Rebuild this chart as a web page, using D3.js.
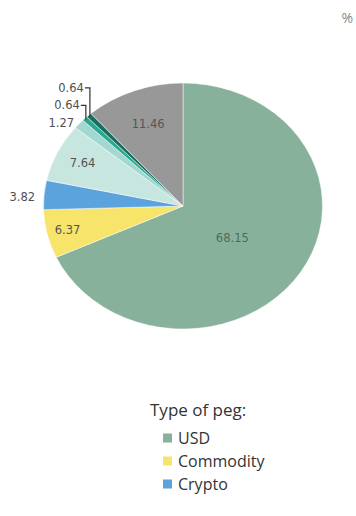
<!DOCTYPE html>
<html>
<head>
<meta charset="utf-8">
<script src="https://cdn.jsdelivr.net/npm/d3@7"></script>
<style>
  html, body { margin: 0; padding: 0; background: #fff; }
  svg { display: block; font-family: "Open Sans", "DejaVu Sans", sans-serif; }
</style>
</head>
<body>
<svg id="chart" width="356" height="516"></svg>
<script>
// Share of stablecoins by type of peg, in percent (clockwise from 12 o'clock)
const pegTypes  = ["USD", "Commodity", "Crypto", "Other A", "Other B", "Other C", "Other D", "Other E"];
const pegShares = [68.15, 6.37, 3.82, 7.64, 1.27, 0.64, 0.64, 11.46];
const pegLabels = ["68.15", "6.37", "3.82", "7.64", "1.27", "0.64", "0.64", "11.46"];
const legendTypes = ["USD", "Commodity", "Crypto"];
const unitLabel = "%";
const legendTitle = "Type of peg:";

const colors = d3.scaleOrdinal()
  .domain(pegTypes)
  .range(["#88b19b", "#f6e46b", "#5aa3dd", "#c8e6e0", "#a3d7d1", "#2aa892", "#176f5e", "#989898"]);

const svg = d3.select("#chart");
const W = 356;

// Pie is drawn slightly wider than tall
const cx = 183, cy = 206, rx = 139.5, ry = 123;

const pie = d3.pie().sort(null).value(d => d.value);
const data = pegTypes.map((t, i) => ({ type: t, value: pegShares[i], label: pegLabels[i] }));
const arcs = pie(data);

const arc = d3.arc().innerRadius(0).outerRadius(ry);

const pieG = svg.append("g")
  .attr("transform", `translate(${cx},${cy}) scale(${rx / ry},1)`);

pieG.selectAll("path")
  .data(arcs)
  .join("path")
  .attr("d", arc)
  .attr("fill", d => colors(d.data.type))
  .attr("stroke", "#ffffff")
  .attr("stroke-width", 0.6)
  .attr("stroke-opacity", 0.8)
  .attr("vector-effect", "non-scaling-stroke");

// point on the (elliptical) pie at angle a and relative radius k
function at(a, k) {
  return [cx + Math.sin(a) * rx * k, cy - Math.cos(a) * ry * k];
}
const mid = d => (d.startAngle + d.endAngle) / 2;

const labelG = svg.append("g")
  .attr("font-family", "'DejaVu Sans', sans-serif")
  .attr("font-size", 11.5)
  .attr("fill", "#505050");

// labels inside the larger slices
const insideK = { "68.15": 0.42, "6.37": 0.85, "7.64": 0.8, "11.46": 0.71 };
arcs.filter(d => d.data.value >= 5).forEach(d => {
  const k = insideK[d.data.label] || 0.6;
  const [x, y] = at(mid(d), k);
  labelG.append("text")
    .attr("x", x).attr("y", y + (d.data.value > 50 ? 4 : 0))
    .attr("text-anchor", "middle")
    .attr("dominant-baseline", "central")
    .attr("fill", d.data.value > 50 ? "#4f6b5c" : "#555")
    .text(d.data.label);
});

// medium slices: label just outside the rim
arcs.filter(d => d.data.value >= 2 && d.data.value < 5).forEach(d => {
  const [x, y] = at(mid(d), 1);
  labelG.append("text")
    .attr("x", x - 9).attr("y", y + 2)
    .attr("text-anchor", "end")
    .attr("dominant-baseline", "central")
    .text(d.data.label);
});

// thin slices: labels stacked upward, later ones joined by leader lines
const small = arcs.filter(d => d.data.value < 2);
const firstEdge = small.length ? at(mid(small[0]), 1) : [0, 0];
small.forEach((d, i) => {
  const [ex, ey] = at(mid(d), 1);
  const ly = firstEdge[1] - 1 - i * 17.5;
  labelG.append("text")
    .attr("x", ex - 5).attr("y", ly)
    .attr("text-anchor", "end")
    .attr("dominant-baseline", "central")
    .text(d.data.label);
  if (i > 0) {
    svg.append("path")
      .attr("d", `M${ex - 4},${ly}H${ex + 1}V${ey + 1}`)
      .attr("fill", "none")
      .attr("stroke", "#333")
      .attr("stroke-width", 1.2);
  }
});

// unit marker
svg.append("text")
  .attr("x", W - 3).attr("y", 17)
  .attr("text-anchor", "end")
  .attr("dominant-baseline", "central")
  .attr("font-size", 14)
  .attr("fill", "#888")
  .text(unitLabel);

// legend
const legend = svg.append("g").attr("transform", "translate(150,0)");
legend.append("text")
  .attr("x", 0).attr("y", 416)
  .attr("font-size", 17)
  .attr("fill", "#333")
  .text(legendTitle);

const rows = legend.selectAll("g.row")
  .data(legendTypes)
  .join("g")
  .attr("class", "row")
  .attr("transform", (d, i) => `translate(0,${438 + i * 23})`);

rows.append("rect")
  .attr("x", 13).attr("y", -4.5)
  .attr("width", 9).attr("height", 9)
  .attr("fill", d => colors(d));

rows.append("text")
  .attr("x", 28).attr("y", 0)
  .attr("dominant-baseline", "central")
  .attr("font-size", 16)
  .attr("fill", "#333")
  .text(d => d);
</script>
</body>
</html>
